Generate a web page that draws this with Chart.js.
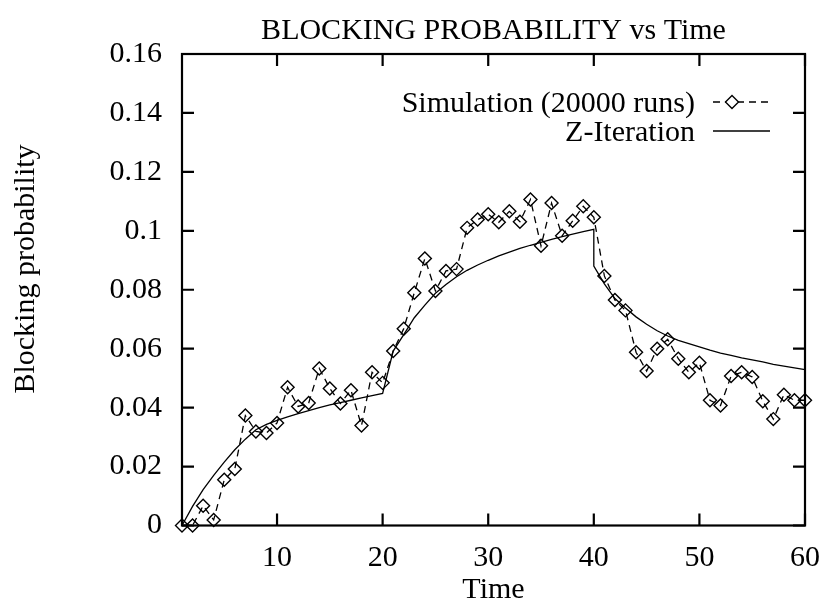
<!DOCTYPE html>
<html>
<head>
<meta charset="utf-8">
<title>Blocking probability vs Time</title>
<script src="https://cdn.jsdelivr.net/npm/chart.js@4.4.0/dist/chart.umd.min.js"></script>
<style>
    html, body { margin: 0; padding: 0; background: #fff; }
    #wrap { width: 825px; height: 606px; position: relative; }
</style>
</head>
<body>
<div id="wrap"><canvas id="blockingChart"></canvas></div>
<script>
// Data
const simTimes = [
    1, 2, 3, 4, 5, 6, 7, 8, 9, 10, 11, 12, 13, 14, 15, 16, 17, 18, 19, 20,
    21, 22, 23, 24, 25, 26, 27, 28, 29, 30, 31, 32, 33, 34, 35, 36, 37, 38, 39, 40,
    41, 42, 43, 44, 45, 46, 47, 48, 49, 50, 51, 52, 53, 54, 55, 56, 57, 58, 59, 60
];
const simValues = [
    0.0000, 0.0000, 0.0067, 0.0019, 0.0155, 0.0192, 0.0373, 0.0319, 0.0314, 0.0348,
    0.0469, 0.0404, 0.0416, 0.0533, 0.0465, 0.0414, 0.0459, 0.0339, 0.0520, 0.0484,
    0.0592, 0.0668, 0.0790, 0.0906, 0.0796, 0.0864, 0.0870, 0.1010, 0.1038, 0.1056,
    0.1029, 0.1066, 0.1031, 0.1106, 0.0949, 0.1094, 0.0983, 0.1034, 0.1083, 0.1046,
    0.0847, 0.0765, 0.0730, 0.0588, 0.0524, 0.0600, 0.0632, 0.0566, 0.0520, 0.0552,
    0.0425, 0.0407, 0.0507, 0.0520, 0.0504, 0.0422, 0.0361, 0.0444, 0.0425, 0.0425
];
// t = 40 appears twice: the curve drops straight down there
const zTimes = [
    1, 2, 3, 4, 5, 6, 7, 8, 9, 10, 11, 12, 13, 14, 15, 16, 17, 18, 19, 20,
    21, 22, 23, 24, 25, 26, 27, 28, 29, 30, 31, 32, 33, 34, 35, 36, 37, 38, 39, 40,
    40, 41, 42, 43, 44, 45, 46, 47, 48, 49, 50, 51, 52, 53, 54, 55, 56, 57, 58, 59, 60
];
const zValues = [
    0.0000, 0.0065, 0.0122, 0.0170, 0.0215, 0.0257, 0.0293, 0.0325, 0.0343, 0.0357,
    0.0369, 0.0380, 0.0390, 0.0400, 0.0409, 0.0417, 0.0425, 0.0433, 0.0441, 0.0448,
    0.0592, 0.0648, 0.0705, 0.0748, 0.0788, 0.0818, 0.0844, 0.0866, 0.0884, 0.0900,
    0.0915, 0.0928, 0.0940, 0.0951, 0.0961, 0.0971, 0.0980, 0.0989, 0.0997, 0.1005,
    0.0880, 0.0820, 0.0770, 0.0738, 0.0708, 0.0683, 0.0661, 0.0643, 0.0628, 0.0617,
    0.0606, 0.0595, 0.0585, 0.0577, 0.0569, 0.0562, 0.0555, 0.0547, 0.0541, 0.0535, 0.0529
];
const xTicks = [10, 20, 30, 40, 50, 60];
const yTicks = [0, 0.02, 0.04, 0.06, 0.08, 0.1, 0.12, 0.14, 0.16];

const FONT = '"Liberation Serif", "Times New Roman", serif';
const FONT_SIZE = 30;
const TICK_LEN = 12;

// Frame, inward ticks on all sides, title, axis labels and key
const gnuplotFrame = {
    id: 'gnuplotFrame',
    afterDraw(chart) {
        const { ctx, chartArea: a, scales } = chart;
        const x = scales.x, y = scales.y;
        ctx.save();

        ctx.strokeStyle = '#000';
        ctx.lineWidth = 2.2;
        ctx.strokeRect(a.left, a.top, a.right - a.left, a.bottom - a.top);

        ctx.beginPath();
        xTicks.forEach(v => {
            const px = x.getPixelForValue(v);
            ctx.moveTo(px, a.bottom); ctx.lineTo(px, a.bottom - TICK_LEN);
            ctx.moveTo(px, a.top); ctx.lineTo(px, a.top + TICK_LEN);
        });
        yTicks.forEach(v => {
            const py = y.getPixelForValue(v);
            ctx.moveTo(a.left, py); ctx.lineTo(a.left + TICK_LEN, py);
            ctx.moveTo(a.right, py); ctx.lineTo(a.right - TICK_LEN, py);
        });
        ctx.stroke();

        ctx.fillStyle = '#000';
        ctx.font = FONT_SIZE + 'px ' + FONT;
        ctx.textBaseline = 'alphabetic';

        // title
        ctx.textAlign = 'center';
        const midX = (a.left + a.right) / 2;
        ctx.fillText('BLOCKING PROBABILITY vs Time', midX, 39);

        // axis titles
        ctx.fillText('Time', midX, 598);
        ctx.save();
        ctx.translate(34, 269);
        ctx.rotate(-Math.PI / 2);
        ctx.fillText('Blocking probability', 0, 0);
        ctx.restore();

        // key
        const ds = chart.data.datasets;
        const textRight = 695, lineL = 713, lineR = 770;
        const rows = [102, 131];
        ctx.textAlign = 'right';
        ds.forEach((d, i) => {
            const ry = rows[i];
            ctx.fillText(d.label, textRight, ry + 10);
            ctx.beginPath();
            ctx.lineWidth = d.borderWidth;
            ctx.setLineDash(d.borderDash || []);
            ctx.moveTo(lineL, ry);
            ctx.lineTo(lineR, ry);
            ctx.stroke();
            ctx.setLineDash([]);
            if (d.pointRadius > 0) {
                const r = d.pointRadius;
                const cx = 732;
                ctx.beginPath();
                ctx.moveTo(cx - r, ry); ctx.lineTo(cx, ry - r);
                ctx.lineTo(cx + r, ry); ctx.lineTo(cx, ry + r);
                ctx.closePath();
                ctx.fillStyle = '#fff';
                ctx.fill();
                ctx.lineWidth = d.pointBorderWidth;
                ctx.stroke();
                ctx.fillStyle = '#000';
            }
        });

        ctx.restore();
    }
};

const simPoints = simTimes.map((t, i) => ({ x: t, y: simValues[i] }));
const zPoints = zTimes.map((t, i) => ({ x: t, y: zValues[i] }));

const ctx = document.getElementById('blockingChart').getContext('2d');
const blockingChart = new Chart(ctx, {
    type: 'line',
    data: {
        datasets: [{
            label: 'Simulation (20000 runs)',
            data: simPoints,
            borderColor: '#000',
            borderWidth: 1.3,
            borderDash: [7, 5],
            pointStyle: 'rectRot',
            pointRadius: 6.5,
            pointBorderWidth: 1.4,
            pointBorderColor: '#000',
            pointBackgroundColor: 'rgba(0,0,0,0)',
            tension: 0,
            clip: false
        }, {
            label: 'Z-Iteration',
            data: zPoints,
            borderColor: '#000',
            borderWidth: 1.3,
            pointRadius: 0,
            tension: 0,
            clip: false
        }]
    },
    options: {
        responsive: true,
        maintainAspectRatio: false,
        animation: false,
        layout: { padding: { top: 54, right: 20, bottom: 0, left: 0 } },
        plugins: {
            legend: { display: false },
            tooltip: { enabled: false },
            title: { display: false }
        },
        scales: {
            x: {
                type: 'linear',
                min: 1,
                max: 60,
                afterFit: s => {
                    s.height = 80.5;
                    s.paddingLeft = 0;
                    s.paddingRight = 0;
                },
                afterBuildTicks: s => { s.ticks = xTicks.map(v => ({ value: v })); },
                grid: { display: false, drawTicks: false },
                border: { display: false },
                ticks: {
                    color: '#000',
                    padding: 15,
                    maxRotation: 0,
                    font: { family: FONT, size: FONT_SIZE }
                }
            },
            y: {
                min: 0,
                max: 0.16,
                afterFit: s => {
                    s.width = 182;
                    s.paddingTop = 0;
                    s.paddingBottom = 0;
                },
                afterBuildTicks: s => { s.ticks = yTicks.map(v => ({ value: v })); },
                grid: { display: false, drawTicks: false },
                border: { display: false },
                ticks: {
                    color: '#000',
                    padding: 20,
                    font: { family: FONT, size: FONT_SIZE },
                    callback: v => String(+v.toFixed(2))
                }
            }
        }
    },
    plugins: [gnuplotFrame]
});
</script>
</body>
</html>
